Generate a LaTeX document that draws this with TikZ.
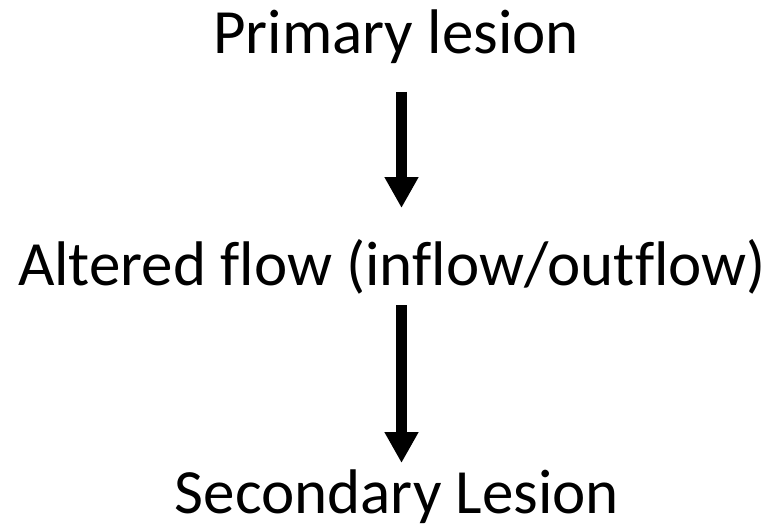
\documentclass[tikz,border=0pt]{standalone}
\usepackage{fontspec}
\setmainfont{Carlito}[Ligatures=NoCommon]
\usetikzlibrary{arrows.meta}
\tikzset{
  lbl/.style={inner sep=0pt, anchor=base, font=\fontsize{63}{75}\selectfont},
  arr/.style={line width=11pt, -{Triangle[width=32pt,length=31pt]}}
}
\begin{document}
\begin{tikzpicture}[x=1pt,y=1pt]
\useasboundingbox (0,0) rectangle (778,-524);
\node[lbl] (p) at (396,-54) {Primary lesion};
\node[lbl] (a) at (392,-285) {Altered flow (inflow/outflow)};
\node[lbl] (s) at (397,-513) {Secondary Lesion};
\draw[arr] ([shift={(5.5pt,-38pt)}]p.base) -- ([shift={(9.5pt,77pt)}]a.base);
\draw[arr] ([shift={(9.5pt,-20pt)}]a.base) -- ([shift={(4.5pt,50pt)}]s.base);
\end{tikzpicture}
\end{document}
